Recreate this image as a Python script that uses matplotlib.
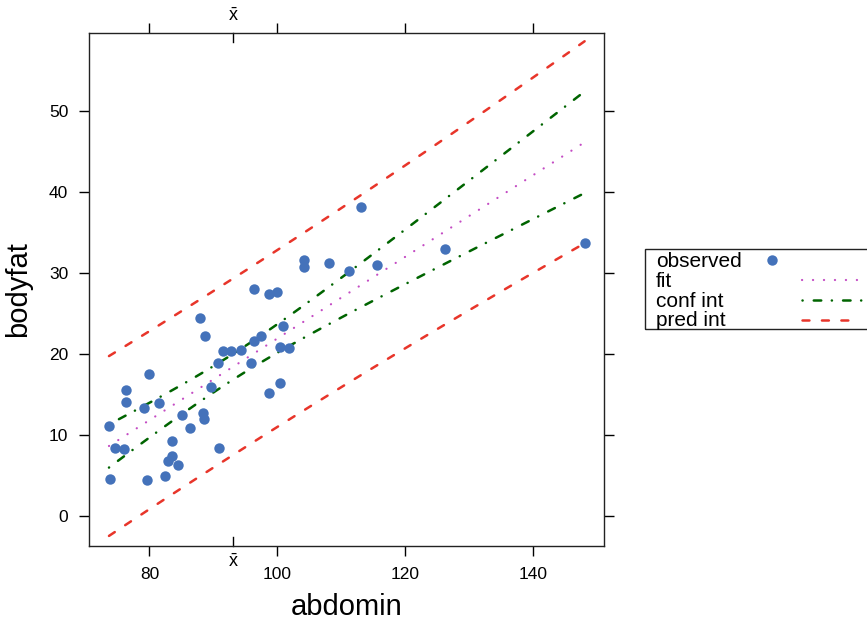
import numpy as np
import matplotlib
matplotlib.use("Agg")
import matplotlib.pyplot as plt
from matplotlib.lines import Line2D
from matplotlib.patches import Rectangle
import matplotlib.transforms as mtransforms

plt.rcParams['font.family'] = ['Liberation Sans', 'DejaVu Sans']
plt.rcParams['mathtext.fontset'] = 'custom'
plt.rcParams['mathtext.rm'] = 'Liberation Sans'
plt.rcParams['mathtext.it'] = 'Liberation Sans'
plt.rcParams['lines.scale_dashes'] = False

# ---- data ----
abdomin = [73.66, 73.87, 74.60, 76.01, 76.37, 76.28, 79.09, 79.66, 79.97, 81.49,
           82.47, 82.94, 83.57, 83.47, 84.51, 85.13, 86.34, 87.90, 88.45, 88.58,
           88.69, 89.58, 90.88, 90.72, 91.50, 92.80, 94.37, 95.88, 96.40, 96.38,
           97.45, 98.78, 98.75, 100.00, 100.42, 100.47, 100.89, 101.78, 104.26, 104.26,
           108.09, 111.22, 113.10, 115.60, 126.20, 148.11]
bodyfat = [11.08, 4.51, 8.34, 8.25, 15.54, 14.06, 13.28, 4.42, 17.50, 13.97,
           4.95, 6.77, 7.35, 9.24, 6.31, 12.45, 10.81, 24.47, 12.70, 11.92,
           22.25, 15.95, 8.34, 18.91, 20.40, 20.40, 20.48, 18.88, 21.59, 27.98,
           22.25, 27.40, 15.13, 27.68, 20.82, 16.37, 23.45, 20.69, 31.60, 30.74,
           31.19, 30.28, 38.11, 30.98, 33.00, 33.70]
x_ticks = [80, 100, 120, 140]
y_ticks = [0, 10, 20, 30, 40, 50]
legend_labels = ["observed", "fit", "conf int", "pred int"]
t_975 = 2.0154  # t quantile, 0.975, n-2 df

x = np.asarray(abdomin)
y = np.asarray(bodyfat)
n = len(x)
xbar = x.mean()
Sxx = np.sum((x - xbar) ** 2)
b1 = np.sum((x - xbar) * (y - y.mean())) / Sxx
b0 = y.mean() - b1 * xbar
s = np.sqrt(np.sum((y - b0 - b1 * x) ** 2) / (n - 2))

xg = np.linspace(x.min(), x.max(), 120)
fit = b0 + b1 * xg
se_c = s * np.sqrt(1 / n + (xg - xbar) ** 2 / Sxx)
se_p = s * np.sqrt(1 + 1 / n + (xg - xbar) ** 2 / Sxx)

# ---- styles ----
W, H = 867, 624
c_pt = '#4472BA'
c_fit = '#C44CC4'
c_ci = '#006400'
c_pi = '#E8352A'
fit_kw = dict(color=c_fit, lw=1.6, dashes=[0.1, 7.8], dash_capstyle='round')
ci_kw = dict(color=c_ci, lw=1.8, dashes=[0.1, 8.0, 5.4, 7.6], dash_capstyle='round')
pi_kw = dict(color=c_pi, lw=1.8, dashes=[5.0, 9.0], dash_capstyle='round')

fig = plt.figure(figsize=(W / 100, H / 100), dpi=100)
ax = fig.add_axes([89.3 / W, (H - 546) / H, (604.3 - 89.3) / W, (546 - 33) / H])

ax.plot(x, y, 'o', color=c_pt, ms=7.5, mec='none', zorder=3)
ax.plot(xg, fit, **fit_kw)
ax.plot(xg, fit + t_975 * se_c, **ci_kw)
ax.plot(xg, fit - t_975 * se_c, **ci_kw)
ax.plot(xg, fit + t_975 * se_p, **pi_kw)
ax.plot(xg, fit - t_975 * se_p, **pi_kw)

ax.set_xlim(70.58, 151.19)
ax.set_ylim(-3.73, 59.64)
ax.set_xticks(x_ticks)
ax.set_yticks(y_ticks)
ax.tick_params(direction='out', length=7.2, width=1.0, labelsize=12.5, pad=8,
               top=True, right=True, labeltop=False, labelright=False, color='black')
for sp in ax.spines.values():
    sp.set_linewidth(1.0)
    sp.set_color('#222222')

ax.set_xlabel('abdomin', fontsize=21, labelpad=8)
ax.set_ylabel('bodyfat', fontsize=21, labelpad=12)

# x-bar markers (inward ticks + labels)
tr = mtransforms.blended_transform_factory(ax.transData, ax.transAxes)
tl = 8.6 / 513
ax.add_line(Line2D([xbar, xbar], [0, tl], transform=tr, color='black', lw=1.0, clip_on=False))
ax.add_line(Line2D([xbar, xbar], [1, 1 - tl], transform=tr, color='black', lw=1.0, clip_on=False))
ax.text(xbar, (546 - 562) / 513, r'$\bar{\mathrm{x}}$', transform=tr, ha='center', va='center', fontsize=13)
ax.text(xbar, (546 - 16) / 513, r'$\bar{\mathrm{x}}$', transform=tr, ha='center', va='center', fontsize=13)

# ---- legend (lattice style key) ----
def fx(px):
    return px / W

def fy(py):
    return 1 - py / H

fig.patches.append(Rectangle((fx(644.5), fy(329)), fx(900) - fx(644.5), fy(248.5) - fy(329),
                             transform=fig.transFigure, fill=False, ec='#222222', lw=1.0))
baselines = [267.3, 287.0, 306.8, 326.5]
centers = [259.5, 279.5, 299.5, 319.5]
for lab, b in zip(legend_labels, baselines):
    fig.text(fx(656), fy(b), lab, fontsize=15, va='baseline', ha='left')
fig.add_artist(Line2D([fx(772.3)], [fy(centers[0])], marker='o', color=c_pt, ms=7.5, mec='none',
                      transform=fig.transFigure))
fig.add_artist(Line2D([fx(801.7), fx(858)], [fy(centers[1])] * 2, transform=fig.transFigure, **fit_kw))
fig.add_artist(Line2D([fx(801.7), fx(861)], [fy(centers[2])] * 2, transform=fig.transFigure, **ci_kw))
fig.add_artist(Line2D([fx(801.7), fx(855)], [fy(centers[3])] * 2, transform=fig.transFigure, **pi_kw))

fig.savefig('out.png', dpi=100)
